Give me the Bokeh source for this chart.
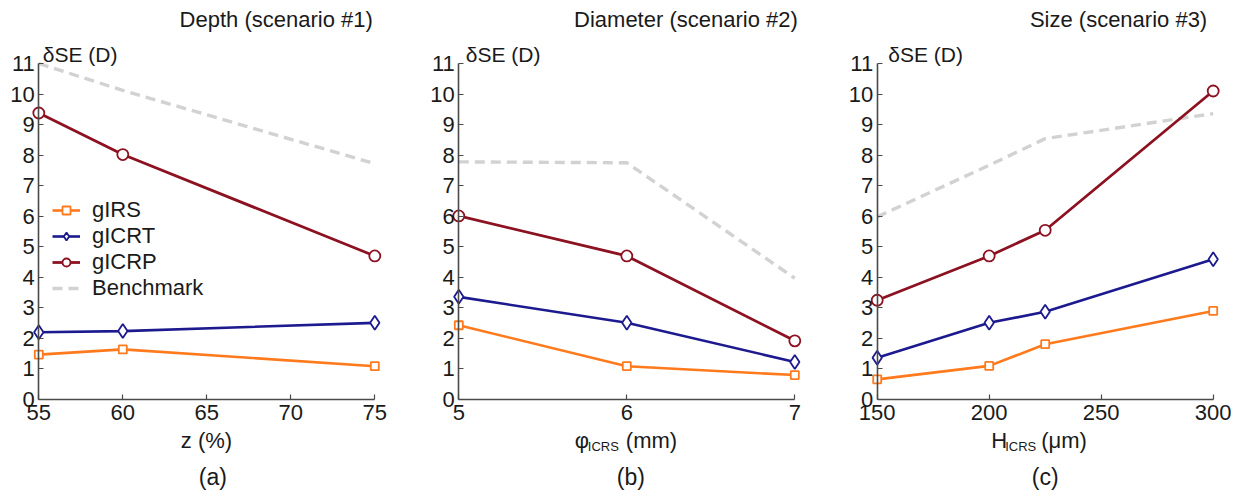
from bokeh.plotting import figure
from bokeh.layouts import row
from bokeh.models import Range1d, Label, Legend, LegendItem, FixedTicker
from bokeh.embed import file_html
from bokeh.resources import INLINE

# ---------------- data ----------------
depth_z = [55, 60, 75]
depth_girs = [1.47, 1.64, 1.09]
depth_gicrt = [2.2, 2.24, 2.51]
depth_gicrp = [9.38, 8.02, 4.7]
depth_bench = [11.0, 10.12, 7.72]

diam_phi = [5, 6, 7]
diam_girs = [2.43, 1.09, 0.8]
diam_gicrt = [3.36, 2.51, 1.23]
diam_gicrp = [6.01, 4.7, 1.92]
diam_bench = [7.78, 7.75, 3.97]

size_h = [150, 200, 225, 300]
size_girs = [0.66, 1.1, 1.81, 2.9]
size_gicrt = [1.37, 2.51, 2.87, 4.59]
size_gicrp = [3.25, 4.7, 5.54, 10.1]
size_bench = [5.98, 7.67, 8.54, 9.36]

y_ticks = list(range(0, 12))
depth_ticks = [55, 60, 65, 70, 75]
diam_ticks = [5, 6, 7]
size_ticks = [150, 200, 250, 300]

series_names = ["gIRS", "gICRT", "gICRP", "Benchmark"]
panel_titles = ["Depth (scenario #1)", "Diameter (scenario #2)", "Size (scenario #3)"]
y_label = "δSE (D)"
panel_tags = ["(a)", "(b)", "(c)"]

# ---------------- style ----------------
FONT = "Liberation Sans"
ORANGE = "#ff7a1c"
BLUE = "#1c1a8e"
RED = "#8c1222"
BENCH = "#d2d2d2"
AXIS = "#4a4a4a"
TXT = "#1a1a1a"

FIG_H = 494
AXIS_LEN = 336      # pixel length of both x axes and y axis
Y0_PX = 399         # pixel row of y = 0
Y_TOP = 11


def make_panel(xs, girs, gicrt, gicrp, bench, ticks, fig_w, ax_px,
               title, title_dx, ylab_dx, tag, tag_dx, xlabel_parts, legend=False):
    x0, x1 = ticks[0], ticks[-1]
    ppx = AXIS_LEN / (x1 - x0)
    ppy = AXIS_LEN / Y_TOP
    xr = Range1d(x0 - ax_px / ppx, x0 + (fig_w - ax_px) / ppx)
    yr = Range1d(-(FIG_H - Y0_PX) / ppy, Y0_PX / ppy)
    p = figure(frame_width=fig_w, frame_height=FIG_H, x_range=xr, y_range=yr,
               output_backend="svg", toolbar_location=None, title=None,
               min_border=0)
    p.outline_line_color = None
    p.xgrid.visible = False
    p.ygrid.visible = False
    p.background_fill_color = "white"
    p.border_fill_color = "white"

    for ax in (p.xaxis[0], p.yaxis[0]):
        ax.axis_line_color = AXIS
        ax.axis_line_width = 1.6
        ax.major_tick_line_color = AXIS
        ax.major_tick_line_width = 1.2
        ax.major_tick_in = 5
        ax.major_tick_out = 0
        ax.minor_tick_in = 0
        ax.minor_tick_out = 0
        ax.major_label_text_font = FONT
        ax.major_label_text_font_size = "22px"
        ax.major_label_text_color = TXT
    p.xaxis.ticker = FixedTicker(ticks=ticks)
    p.xaxis.bounds = (x0, x1)
    p.xaxis.fixed_location = 0
    p.xaxis.major_label_standoff = 5
    p.yaxis.ticker = FixedTicker(ticks=y_ticks)
    p.yaxis.bounds = (0, Y_TOP)
    p.yaxis.fixed_location = x0
    p.yaxis.major_label_standoff = 4

    rb = p.line(xs, bench, line_color=BENCH, line_width=3.4, line_dash="10 6")
    lo = p.line(xs, girs, line_color=ORANGE, line_width=2.6)
    so = p.scatter(xs, girs, marker="square", size=8, fill_color="white",
                   line_color=ORANGE, line_width=1.8)
    lb = p.line(xs, gicrt, line_color=BLUE, line_width=2.6)
    sb = p.scatter(xs, gicrt, marker="diamond", size=14, fill_color="white",
                   line_color=BLUE, line_width=1.8)
    lr = p.line(xs, gicrp, line_color=RED, line_width=2.8)
    sr = p.scatter(xs, gicrp, marker="circle", size=11, fill_color="white",
                   line_color=RED, line_width=1.8)

    xmid = (x0 + x1) / 2
    p.add_layout(Label(x=x1, y=Y_TOP, x_offset=title_dx, y_offset=44, text=title,
                       text_align="right", text_baseline="middle",
                       text_font=FONT, text_font_size="22px", text_color=TXT))
    p.add_layout(Label(x=x0, y=Y_TOP, x_offset=ylab_dx, y_offset=9, text=y_label,
                       text_align="left", text_baseline="middle",
                       text_font=FONT, text_font_size="21px", text_color=TXT))
    for txt, dx, dy, fs in xlabel_parts:
        p.add_layout(Label(x=xmid, y=0, x_offset=dx, y_offset=dy, text=txt,
                           text_align="left", text_baseline="middle",
                           text_font=FONT, text_font_size=fs, text_color=TXT))
    p.add_layout(Label(x=xmid, y=0, x_offset=tag_dx, y_offset=-77, text=tag,
                       text_align="center", text_baseline="middle",
                       text_font=FONT, text_font_size="23px", text_color=TXT))

    if legend:
        leg = Legend(items=[LegendItem(label=series_names[0], renderers=[lo, so]),
                            LegendItem(label=series_names[1], renderers=[lb, sb]),
                            LegendItem(label=series_names[2], renderers=[lr, sr]),
                            LegendItem(label=series_names[3], renderers=[rb])],
                     location=(52, 193), margin=0, padding=0, spacing=0,
                     glyph_width=28, glyph_height=20, label_height=20,
                     label_standoff=12, border_line_color=None,
                     background_fill_alpha=0, label_text_font=FONT,
                     label_text_font_size="22px", label_text_color=TXT,
                     label_text_baseline="middle")
        p.add_layout(leg)
    return p


p1 = make_panel(depth_z, depth_girs, depth_gicrt, depth_gicrp, depth_bench,
                depth_ticks, 422, 38.3, panel_titles[0], -2, 4, panel_tags[0], 6,
                [("z (%)", -26, -41, "22px")], legend=True)
p2 = make_panel(diam_phi, diam_girs, diam_gicrt, diam_gicrp, diam_bench,
                diam_ticks, 419, 36.3, panel_titles[1], 3, 7, panel_tags[1], 4,
                [("φ", -52, -41, "22px"), ("ICRS", -39, -47, "13px"),
                 ("(mm)", -1, -41, "22px")])
p3 = make_panel(size_h, size_girs, size_gicrt, size_gicrp, size_bench,
                size_ticks, 392, 35.7, panel_titles[2], -6, 11, panel_tags[2], 0,
                [("H", -54, -41, "22px"), ("ICRS", -40, -47, "13px"),
                 ("(μm)", -4, -41, "22px")])

layout = row(p1, p2, p3, spacing=0)
open("out.html", "w").write(file_html(layout, INLINE))
